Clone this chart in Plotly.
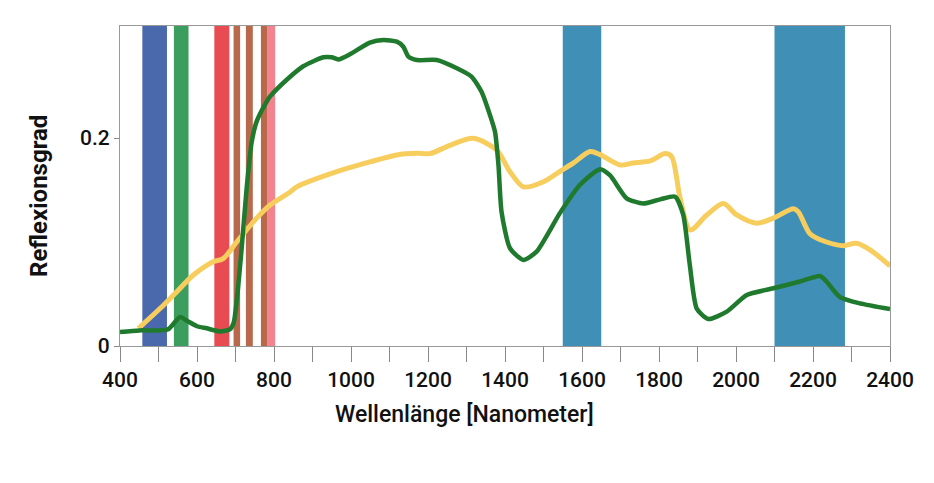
import plotly.graph_objects as go

# Wavelength (nm) and reflectance for vegetation (green) and soil (yellow)
veg_nm = [400, 450, 500, 525, 545, 556, 575, 600, 625, 660, 685, 695, 703, 716, 729, 742, 755, 781, 790,
          833, 876, 928, 950, 967, 997, 1049, 1084, 1119, 1136, 1149, 1171, 1223, 1275, 1313, 1339, 1361,
          1374, 1383, 1391, 1413, 1448, 1482, 1543, 1595, 1647, 1673, 1716, 1759, 1803, 1842, 1863, 1880,
          1898, 1928, 1976, 2028, 2097, 2166, 2218, 2235, 2270, 2322, 2400]
veg_refl = [0.0135, 0.015, 0.015, 0.016, 0.024, 0.028, 0.024, 0.019, 0.017, 0.014, 0.016, 0.022, 0.043,
            0.094, 0.152, 0.196, 0.216, 0.235, 0.240, 0.256, 0.269, 0.2776, 0.2776, 0.2756, 0.2805, 0.2917,
            0.2942, 0.2926, 0.2878, 0.2782, 0.275, 0.275, 0.267, 0.259, 0.2445, 0.222, 0.206, 0.174, 0.129,
            0.094, 0.0827, 0.0907, 0.128, 0.155, 0.170, 0.164, 0.142, 0.137, 0.141, 0.1436, 0.126, 0.078,
            0.036, 0.026, 0.033, 0.049, 0.0555, 0.062, 0.0673, 0.062, 0.047, 0.041, 0.0355]

soil_nm = [448, 504, 547, 590, 642, 668, 703, 755, 790, 842, 859, 963, 1049, 1119, 1171, 1205, 1257, 1318,
           1378, 1413, 1448, 1500, 1543, 1578, 1621, 1647, 1699, 1733, 1777, 1816, 1833, 1855, 1881, 1924,
           1967, 2002, 2054, 2097, 2149, 2162, 2192, 2235, 2279, 2313, 2350, 2400]
soil_refl = [0.017, 0.036, 0.052, 0.068, 0.081, 0.084, 0.100, 0.123, 0.1356, 0.148, 0.153, 0.1676, 0.177,
             0.1837, 0.1853, 0.185, 0.193, 0.1997, 0.1885, 0.1676, 0.153, 0.158, 0.168, 0.176, 0.187, 0.184,
             0.174, 0.176, 0.178, 0.185, 0.182, 0.142, 0.1115, 0.126, 0.137, 0.126, 0.118, 0.123, 0.132,
             0.129, 0.108, 0.100, 0.0965, 0.0988, 0.092, 0.077]

# Spectral bands (nm)
band_start = [458, 540, 645, 695, 727, 766, 782, 1550, 2100]
band_end = [522, 578, 684, 712, 745, 782, 803, 1650, 2283]
band_color = ["#4a69ad", "#3c9e5e", "#e84b51", "#b9694b", "#b9694b", "#b9694b", "#f2838f", "#3f8fb6", "#3f8fb6"]

x_ticks = [400, 600, 800, 1000, 1200, 1400, 1600, 1800, 2000, 2200, 2400]
y_ticks = [0, 0.2]
y_tick_text = ["0", "0.2"]

fig = go.Figure()

for s, e, c in zip(band_start, band_end, band_color):
    fig.add_vrect(x0=s, x1=e, fillcolor=c, opacity=1, line_width=0, layer="below")

fig.add_trace(go.Scatter(x=soil_nm, y=soil_refl, mode="lines",
                         line=dict(color="#f7cd5e", width=5, shape="spline", smoothing=0.8),
                         showlegend=False, hoverinfo="skip"))
fig.add_trace(go.Scatter(x=veg_nm, y=veg_refl, mode="lines",
                         line=dict(color="#1f7a2e", width=4.5, shape="spline", smoothing=0.6),
                         showlegend=False, hoverinfo="skip"))

tick_font = dict(family="Roboto", size=21, color="#111", weight=500)

fig.update_layout(
    width=926, height=475,
    margin=dict(l=112, r=44, t=18, b=137),
    paper_bgcolor="white", plot_bgcolor="white",
    xaxis=dict(range=[400, 2400], tickvals=x_ticks, ticks="outside", ticklen=15, tickcolor="#888",
               tickwidth=1, showgrid=False, zeroline=False, showline=True, linecolor="#999",
               linewidth=1, mirror=True, tickfont=tick_font,
               minor=dict(dtick=100, tick0=400, ticks="outside", ticklen=15, tickcolor="#888", tickwidth=1,
                          showgrid=False)),
    yaxis=dict(range=[0, 0.3077], tickvals=y_ticks, ticktext=y_tick_text, ticks="outside", ticklen=5,
               tickcolor="#888", showgrid=False, zeroline=False, showline=True, linecolor="#999",
               linewidth=1, mirror=True, tickfont=tick_font),
    annotations=[
        dict(text="Wellenlänge [Nanometer]", xref="paper", yref="paper", x=0.447, y=-0.215,
             xanchor="center", yanchor="middle", showarrow=False,
             font=dict(family="Roboto", size=23, color="#111", weight=500)),
        dict(text="<b>Reflexionsgrad</b>", xref="paper", yref="paper", x=-0.106, y=0.47,
             xanchor="center", yanchor="middle", showarrow=False, textangle=-90,
             font=dict(family="Roboto", size=24, color="#111")),
    ],
)

fig.write_html("out.html")
